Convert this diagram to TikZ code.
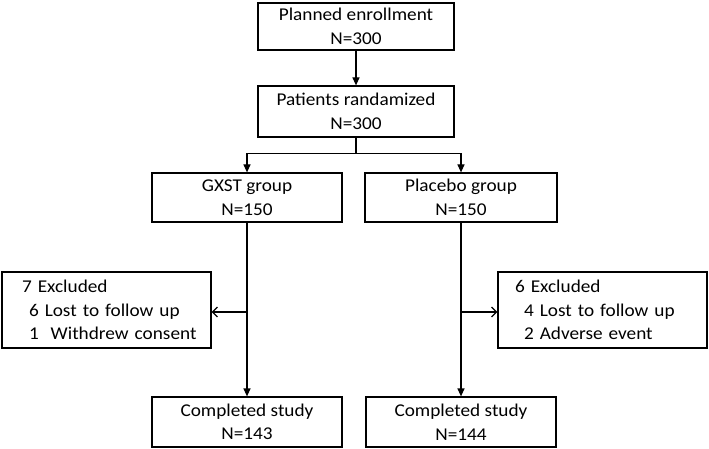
\documentclass[tikz,border=0pt]{standalone}
\usepackage{fontspec}
\setmainfont[FakeStretch=1.07]{Carlito}
\usepackage{tikz}
\usetikzlibrary{arrows.meta, positioning, calc}

\begin{document}
\begin{tikzpicture}[x=1pt, y=-1pt, line width=1.2pt,
    box/.style={draw, align=center, inner sep=0pt, minimum height=49pt,
        font=\fontsize{18}{23.5}\selectfont},
    exbox/.style={draw, align=left, inner sep=0pt, text width=209pt,
        minimum height=76pt, font=\fontsize{18}{23.5}\selectfont},
    down/.style={-{Triangle[width=7pt, length=8pt]}},
    side/.style={-{Straight Barb[width=10pt, length=5pt, line width=1.2pt]}}]
    \useasboundingbox (0,0) rectangle (709,449);

    % Top of the chart
    \node[box, minimum width=196pt, minimum height=47pt] (plan) at (356,26.5) {Planned enrollment\\N=300};
    \node[box, minimum width=196pt, minimum height=51pt] (rand) at (356,111.5) {Patients randamized\\N=300};

    % The two arms
    \node[box, minimum width=190pt] (gxst) at (247,197.5) {GXST group\\N=150};
    \node[box, minimum width=192pt] (plac) at (461,197.5) {Placebo group\\N=150};

    % Exclusions
    \node[exbox] (exl) at (106.5,310) {\hspace*{20pt}7 Excluded\\\hspace*{27pt}6 Lost to follow up\\\hspace*{27pt}1~ Withdrew consent};
    \node[exbox] (exr) at (602.5,310) {\hspace*{17pt}6 Excluded\\\hspace*{26pt}4 Lost to follow up\\\hspace*{26pt}2 Adverse event};

    % Completed
    \node[box, minimum width=190pt, minimum height=50pt] (compl) at (247,422) {Completed study\\N=143};
    \node[box, minimum width=190pt, minimum height=50pt] (compr) at (461,422) {Completed study\\N=144};

    % Connectors
    \draw[down] (plan) -- (rand);
    \draw (rand.south) -- ++(0,16) coordinate (split);
    \draw[down] (split) -| (gxst.north);
    \draw[down] (split) -| (plac.north);
    \draw[down] (gxst) -- (compl);
    \draw[down] (plac) -- (compr);
    \draw[side] (exl.east -| gxst.south) ++(0,2) -- ([yshift=-2pt]exl.east);
    \draw[side] (exr.west -| plac.south) ++(0,2) -- ([yshift=-2pt]exr.west);
\end{tikzpicture}
\end{document}
